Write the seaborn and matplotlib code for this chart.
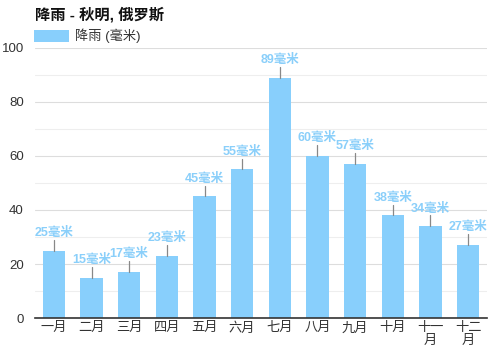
import matplotlib
matplotlib.use("Agg")
import matplotlib.pyplot as plt
from matplotlib.patches import Patch
from matplotlib.ticker import MultipleLocator
import seaborn as sns
import pandas as pd

months = ["一月", "二月", "三月", "四月", "五月", "六月",
          "七月", "八月", "九月", "十月", "十一\n月", "十二\n月"]
rain_mm = [25, 15, 17, 23, 45, 55, 89, 60, 57, 38, 34, 27]
title = "降雨 - 秋明, 俄罗斯"
series_name = "降雨 (毫米)"

sns.set_theme(style="white")
plt.rcParams["font.family"] = ["Liberation Sans", "Noto Sans CJK SC", "DejaVu Sans"]

bar_color = "#88CFFC"
label_color = "#8ACFFA"

df = pd.DataFrame({"month": months, "rain": rain_mm})

fig = plt.figure(figsize=(5, 3.5), dpi=100)
ax = fig.add_axes([0.07, 0.0914, 0.904, 0.7715])

sns.barplot(data=df, x="month", y="rain", color=bar_color, width=0.6,
            saturation=1, linewidth=0, ax=ax, zorder=3)

ax.set_ylim(0, 100)
ax.set_xlim(-0.5, len(months) - 0.5)
ax.yaxis.set_major_locator(MultipleLocator(20))
ax.yaxis.set_minor_locator(MultipleLocator(10))
ax.grid(axis="y", which="major", color="#DDDDDD", linewidth=0.8, zorder=0)
ax.grid(axis="y", which="minor", color="#EEEEEE", linewidth=0.8, zorder=0)
ax.set_axisbelow(True)
for s in ["top", "right", "left"]:
    ax.spines[s].set_visible(False)
ax.spines["bottom"].set_color("#333333")
ax.spines["bottom"].set_linewidth(1.2)
ax.spines["bottom"].set_zorder(6)
ax.set_xlabel("")
ax.set_ylabel("")
ax.tick_params(axis="both", which="both", length=0, labelsize=9.5,
               labelcolor="#333333")
ax.tick_params(axis="x", pad=3)
ax.tick_params(axis="y", pad=8)
for lbl in ax.get_xticklabels():
    lbl.set_linespacing(1.1)
    lbl.set_verticalalignment("top")

# value labels with short leader lines
for i, v in enumerate(rain_mm):
    ax.plot([i, i], [v, v + 4], color="#888888", linewidth=0.9, zorder=4,
            clip_on=False)
    ax.text(i, v + 4.3, f"{v}毫米", ha="center", va="bottom", fontsize=9,
            fontweight="bold", color=label_color, zorder=5)

fig.text(0.07, 0.957, title, ha="left", va="center", fontsize=11,
         fontweight="bold", color="#111111")
fig.legend(handles=[Patch(facecolor=bar_color, edgecolor="none", label=series_name)],
           loc="center left", bbox_to_anchor=(0.058, 0.897), frameon=False,
           fontsize=9.5, handlelength=2.6, handleheight=1.0, borderaxespad=0,
           labelcolor="#333333", handletextpad=0.5)

fig.savefig("out.png", dpi=100)
